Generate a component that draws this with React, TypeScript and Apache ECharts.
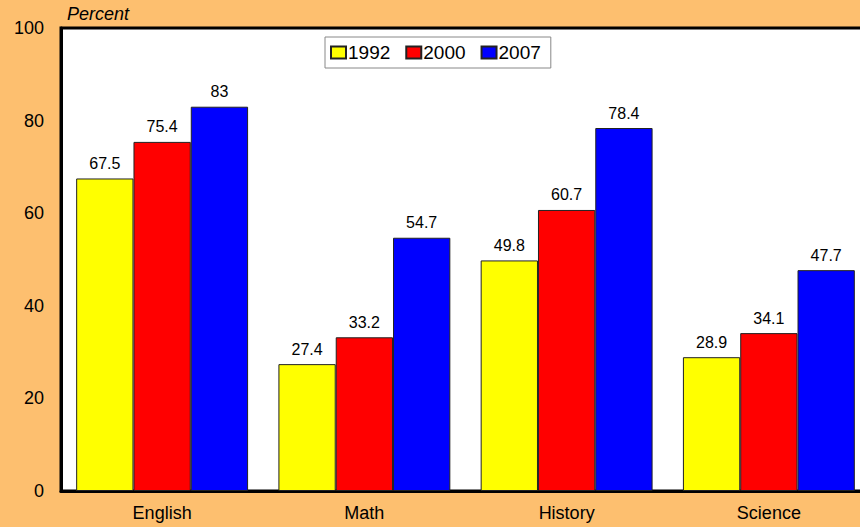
import React, { useEffect, useRef } from "react";
import * as echarts from "echarts";

const categories = ["English", "Math", "History", "Science"];
const yearNames = ["1992", "2000", "2007"];
const values1992 = [67.5, 27.4, 49.8, 28.9];
const values2000 = [75.4, 33.2, 60.7, 34.1];
const values2007 = [83, 54.7, 78.4, 47.7];
const colors = ["#FFFF00", "#FF0000", "#0000FF"];

export default function App() {
  const ref = useRef<HTMLDivElement>(null);
  useEffect(() => {
    document.body.style.margin = "0";
    const chart = echarts.init(ref.current!, null, { renderer: "svg" });
    const font = "'Liberation Sans', Arial, sans-serif";
    const seriesData = [values1992, values2000, values2007];
    chart.setOption({
      animation: false,
      backgroundColor: "#FDBF6F",
      textStyle: { fontFamily: font },
      grid: {
        left: 61,
        top: 28,
        width: 809,
        height: 463,
        show: true,
        backgroundColor: "#FFFFFF",
        borderColor: "#000000",
        borderWidth: 3,
        containLabel: false,
        outerBoundsMode: "none",
      },
      legend: {
        data: yearNames,
        left: 325,
        top: 37,
        backgroundColor: "#FFFFFF",
        borderColor: "#888888",
        borderWidth: 1,
        padding: [6, 10, 6, 5],
        itemWidth: 15,
        itemHeight: 12,
        itemGap: 15,
        icon: "rect",
        textStyle: { fontSize: 19, color: "#000", fontFamily: font, padding: [0, 0, 0, -3] },
      },
      graphic: [
        {
          type: "text",
          left: 67,
          top: 5,
          style: { text: "Percent", font: "italic 18px 'Liberation Sans', Arial, sans-serif", fill: "#000" },
        },
      ],
      xAxis: {
        type: "category",
        data: categories,
        axisLine: { lineStyle: { color: "#000", width: 3 } },
        axisTick: { show: false },
        axisLabel: { fontSize: 18, color: "#000", margin: 13, fontFamily: font },
      },
      yAxis: {
        type: "value",
        min: 0,
        max: 100,
        interval: 20,
        splitLine: { show: false },
        axisLine: { show: true, lineStyle: { color: "#000", width: 3 } },
        axisTick: { show: false },
        axisLabel: { fontSize: 18, color: "#000", margin: 17, fontFamily: font },
      },
      series: yearNames.map((name, i) => ({
        name,
        type: "bar",
        data: seriesData[i],
        barGap: "0%",
        barCategoryGap: "15%",
        itemStyle: { color: colors[i], borderColor: "#222222", borderWidth: 1 },
        label: {
          show: true,
          position: "top",
          distance: 7,
          fontSize: 16,
          color: "#000",
          fontFamily: font,
        },
      })),
    });
    return () => chart.dispose();
  }, []);
  return (
    <div
      ref={ref}
      style={{ position: "fixed", left: 0, top: 0, width: 860, height: 527 }}
    />
  );
}
